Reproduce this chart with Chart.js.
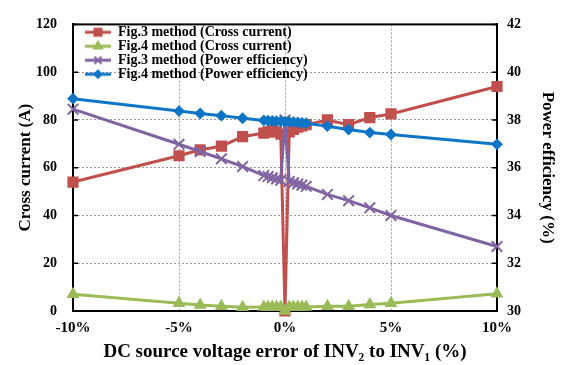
<!DOCTYPE html>
<html>
<head>
<meta charset="utf-8">
<script src="https://cdn.jsdelivr.net/npm/chart.js@4.4.1/dist/chart.umd.min.js"></script>
<style>
  html, body { margin: 0; padding: 0; background: #fff; }
  #chart { display: block; }
</style>
</head>
<body>
<canvas id="chart" width="565" height="365"></canvas>
<script>
// DC source voltage error of INV2 to INV1 (%)
var errorPct = [-10, -5, -4, -3, -2, -1, -0.8, -0.6, -0.4, -0.2, 0, 0.2, 0.4, 0.6, 0.8, 1, 2, 3, 4, 5, 10];

// cross current (A) - left axis
var fig3Cross = [54, 65, 67.5, 69, 73, 74.5, 75, 75.5, 75, 74, 0, 75, 76, 77, 77.5, 78, 80, 78, 81, 82.5, 94];
var fig4Cross = [7, 3.2, 2.5, 2, 1.6, 1.7, 1.7, 1.7, 1.7, 1.7, 0, 1.7, 1.7, 1.7, 1.7, 1.7, 2, 2, 2.7, 3.2, 7.2];

// power efficiency (%) - right axis
var fig3Eff = [38.45, 36.98, 36.68, 36.37, 36.05, 35.67, 35.63, 35.58, 35.53, 35.48, 38.0, 35.42, 35.37, 35.32, 35.27, 35.22, 34.88, 34.62, 34.32, 34.0, 32.7];
var fig4Eff = [38.89, 38.37, 38.27, 38.18, 38.07, 37.98, 37.97, 37.96, 37.95, 37.94, 37.93, 37.92, 37.91, 37.9, 37.88, 37.86, 37.74, 37.6, 37.47, 37.39, 36.98];

var seriesNames = [
    'Fig.3 method (Cross current)',
    'Fig.4 method (Cross current)',
    'Fig.3 method (Power efficiency)',
    'Fig.4 method (Power efficiency)'
];

var xTicks = [-10, -5, 0, 5, 10];
var leftTicks = [0, 20, 40, 60, 80, 100, 120];
var rightTicks = [30, 32, 34, 36, 38, 40, 42];

var SERIF = "'Liberation Serif', 'Times New Roman', serif";

function pairs(ys) {
    return ys.map(function (y, i) { return { x: errorPct[i], y: y }; });
}

function setTicks(list) {
    return function (scale) {
        scale.ticks = list.map(function (v) { return { value: v }; });
    };
}

// legend swatch: short line with the marker in its middle
function legendIcon(color, style, radius) {
    var c = document.createElement('canvas');
    c.width = 38; c.height = 14;
    var g = c.getContext('2d');
    g.strokeStyle = color;
    g.fillStyle = color;
    g.lineWidth = 3;
    g.beginPath(); g.moveTo(12, 7); g.lineTo(38, 7); g.stroke();
    g.lineWidth = 2;
    if (Chart.helpers && Chart.helpers.drawPoint) {
        Chart.helpers.drawPoint(g, { pointStyle: style, radius: radius, rotation: 0, borderWidth: 2 }, 25, 7);
    } else {
        g.fillRect(21, 3, 8, 8);
    }
    return c;
}

// box round the plot area, with small inward ticks on both value axes
var frame = {
    id: 'frame',
    beforeDatasetsDraw: function (chart) {
        var a = chart.chartArea, ctx = chart.ctx;
        ctx.save();
        ctx.strokeStyle = '#000';
        ctx.lineWidth = 2;
        ctx.strokeRect(a.left, a.top, a.right - a.left, a.bottom - a.top);
        ctx.lineWidth = 1.5;
        ctx.beginPath();
        leftTicks.forEach(function (v) {
            var y = chart.scales.y.getPixelForValue(v);
            ctx.moveTo(a.left, y); ctx.lineTo(a.left + 5, y);
        });
        rightTicks.forEach(function (v) {
            var y = chart.scales.y1.getPixelForValue(v);
            ctx.moveTo(a.right, y); ctx.lineTo(a.right - 5, y);
        });
        ctx.stroke();
        ctx.restore();
    }
};

function innerGrid(lo, hi) {
    return function (c) {
        var v = c.tick ? c.tick.value : null;
        return (v === lo || v === hi) ? 'rgba(0,0,0,0)' : '#9a9a9a';
    };
}

var styles = [
    { color: '#c0504d', point: 'rect', radius: 6.5, legendR: 5, axis: 'y', order: 4 },
    { color: '#9bbb59', point: 'triangle', radius: 5.5, legendR: 4.5, axis: 'y', order: 3 },
    { color: '#8064a2', point: 'crossRot', radius: 7.5, legendR: 5, axis: 'y1', order: 2 },
    { color: '#0f75c6', point: 'rectRot', radius: 4.5, legendR: 3.5, axis: 'y1', order: 1 }
];
var values = [fig3Cross, fig4Cross, fig3Eff, fig4Eff];

var datasets = values.map(function (vals, i) {
    var s = styles[i];
    return {
        label: seriesNames[i],
        data: pairs(vals),
        yAxisID: s.axis,
        order: s.order,
        borderColor: s.color,
        backgroundColor: s.color,
        borderWidth: 3,
        pointStyle: s.point,
        pointRadius: s.radius,
        pointBorderWidth: 2,
        pointBackgroundColor: s.color,
        pointBorderColor: s.color,
        tension: 0,
        clip: false
    };
});

new Chart(document.getElementById('chart'), {
    type: 'line',
    data: { datasets: datasets },
    plugins: [frame],
    options: {
        responsive: false,
        animation: false,
        layout: { padding: { top: 17, left: 0, right: 0, bottom: 0 } },
        scales: {
            x: {
                type: 'linear',
                min: -10, max: 10,
                afterBuildTicks: setTicks(xTicks),
                afterFit: function (s) { s.height = 54; },
                ticks: {
                    color: '#000',
                    padding: 8,
                    font: { family: SERIF, size: 15, weight: 'bold' },
                    callback: function (v) { return v + '%'; }
                },
                grid: { color: innerGrid(-10, 10), lineWidth: 1, drawTicks: false },
                border: { color: '#000', width: 2, dash: [2, 2] },
                title: {
                    display: true,
                    text: 'DC source voltage error of INV\u2082 to INV\u2081 (%)',
                    color: '#000',
                    font: { family: SERIF, size: 19, weight: 'bold' },
                    padding: { top: 0, bottom: 2 }
                }
            },
            y: {
                position: 'left',
                min: 0, max: 120,
                afterBuildTicks: setTicks(leftTicks),
                afterFit: function (s) { s.width = 73; },
                ticks: {
                    color: '#000',
                    padding: 16,
                    font: { family: SERIF, size: 14, weight: 'bold' }
                },
                grid: { color: innerGrid(0, 120), lineWidth: 1, drawTicks: false },
                border: { color: '#000', width: 2, dash: [2, 2] },
                title: {
                    display: true,
                    text: 'Cross current (A)',
                    color: '#000',
                    font: { family: SERIF, size: 17, weight: 'bold' },
                    padding: { top: 15, bottom: 0 }
                }
            },
            y1: {
                position: 'right',
                min: 30, max: 42,
                afterBuildTicks: setTicks(rightTicks),
                afterFit: function (s) { s.width = 68; },
                ticks: {
                    color: '#000',
                    padding: 10,
                    font: { family: SERIF, size: 14, weight: 'bold' }
                },
                grid: { drawOnChartArea: false, drawTicks: false },
                border: { color: '#000', width: 2 },
                title: {
                    display: true,
                    text: 'Power efficiency (%)',
                    color: '#000',
                    font: { family: SERIF, size: 17, weight: 'bold' },
                    padding: { top: 7, bottom: 0 }
                }
            }
        },
        plugins: {
            tooltip: { enabled: false },
            legend: {
                position: 'chartArea',
                align: 'start',
                // empty title only pushes the rows down inside the plot area
                title: { display: true, text: '', font: { size: 1 }, padding: { top: 24, bottom: 0 } },
                labels: {
                    usePointStyle: true,
                    pointStyleWidth: 38,
                    padding: 0,
                    color: '#000',
                    font: { family: SERIF, size: 14, weight: 'bold' },
                    generateLabels: function (chart) {
                        return chart.data.datasets.map(function (ds, i) {
                            return {
                                text: ds.label,
                                datasetIndex: i,
                                hidden: !chart.isDatasetVisible(i),
                                fontColor: '#000',
                                fillStyle: ds.borderColor,
                                strokeStyle: ds.borderColor,
                                lineWidth: 0,
                                pointStyle: legendIcon(ds.borderColor, ds.pointStyle, styles[i].legendR)
                            };
                        });
                    }
                }
            }
        }
    }
});
</script>
</body>
</html>
